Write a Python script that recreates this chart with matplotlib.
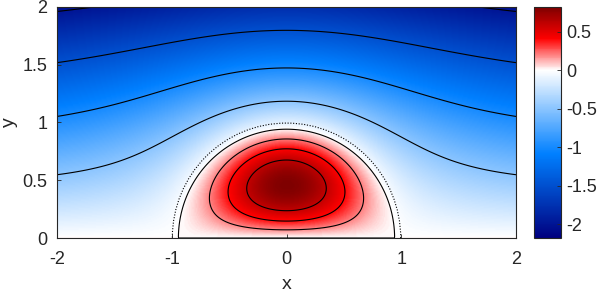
import numpy as np
import matplotlib.pyplot as plt
from matplotlib.colors import LinearSegmentedColormap, Normalize
from matplotlib.patches import Arc

plt.rcParams['font.family'] = ['Liberation Sans', 'DejaVu Sans']

# values
x_range = [-2, 2]
y_range = [0, 2]
x_ticks = [-2, -1, 0, 1, 2]
y_ticks = [0, 0.5, 1, 1.5, 2]
cbar_ticks = [-2, -1.5, -1, -0.5, 0, 0.5]
cbar_labels = ['-2', '-1.5', '-1', '-0.5', '0', '0.5']
color_min, color_max = -2.18, 0.82
levels = [-2, -1.5, -1, -0.5, 0, 0.2, 0.4, 0.6]

# dipole seen in the picture: core radius, far-field speed, reference circle
core_radius = 0.942
speed = 1.15
ref_radius = 0.995
cmap_colors = [(0, 0, 0.5), (0, 0.5, 1), (1, 1, 1), (1, 0, 0), (0.5, 0, 0)]


def bessel(n, z):
    tau = np.linspace(0, np.pi, 121)
    vals = np.cos(n * tau - z[..., None] * np.sin(tau)[None])
    return np.trapezoid(vals, tau, axis=-1) / np.pi


def stream(X, Y):
    k = 3.8317 / core_radius
    r = np.hypot(X, Y)
    r[r == 0] = 1e-9
    sin_t = Y / r
    out = -speed * Y * (1 - core_radius**2 / r**2)
    j0ka = bessel(0, np.array([k * core_radius]))[0]
    inside = -2 * speed / (k * j0ka) * bessel(1, k * r) * sin_t
    return np.where(r < core_radius, inside, out)


xs = np.linspace(x_range[0], x_range[1], 401)
ys = np.linspace(y_range[0], y_range[1], 201)
X, Y = np.meshgrid(xs, ys)
psi = stream(X, Y)

# white sits at 0, blue and red halves each split in the middle
z = -color_min / (color_max - color_min)
cmap = LinearSegmentedColormap.from_list(
    'rb', list(zip([0, z / 2, z, (1 + z) / 2, 1], cmap_colors)), N=256)
norm = Normalize(vmin=color_min, vmax=color_max)

dark = (0.15, 0.15, 0.15)
fig = plt.figure(figsize=(5.98, 2.95), dpi=100)
ax = fig.add_axes([0.0953, 0.1932, 0.7676, 0.7831])
im = ax.imshow(psi, extent=[x_range[0], x_range[1], y_range[0], y_range[1]],
               origin='lower', cmap=cmap, norm=norm, aspect='auto',
               interpolation='bilinear')
ax.contour(X, Y, psi, levels=levels, colors='k', linewidths=0.8, linestyles='solid')
ax.add_patch(Arc((0, 0), 2 * ref_radius, 2 * ref_radius, theta1=0, theta2=180,
                 color='k', lw=0.8, ls=(0, (1, 1.5))))

ax.set_xlim(x_range)
ax.set_ylim(y_range)
ax.set_xticks(x_ticks)
ax.set_xticklabels(['-2', '-1', '0', '1', '2'])
ax.set_yticks(y_ticks)
ax.set_yticklabels(['0', '0.5', '1', '1.5', '2'])
ax.tick_params(direction='in', length=3, width=0.6, colors=dark, labelsize=13)
ax.tick_params(axis='x', pad=9)
ax.tick_params(axis='y', pad=7)
for s in ax.spines.values():
    s.set_color(dark)
    s.set_linewidth(0.8)
ax.set_xlabel('x', fontsize=14, color=dark, labelpad=6)
ax.set_ylabel('y', fontsize=14, color=dark, labelpad=3)

cax = fig.add_axes([0.893, 0.1932, 0.0452, 0.7831])
cb = fig.colorbar(im, cax=cax)
cb.set_ticks(cbar_ticks)
cb.set_ticklabels(cbar_labels)
cb.ax.tick_params(direction='in', length=3, width=0.6, colors=dark, labelsize=13, pad=4)
cb.outline.set_edgecolor(dark)
cb.outline.set_linewidth(0.8)

fig.savefig('out.png', dpi=100)
